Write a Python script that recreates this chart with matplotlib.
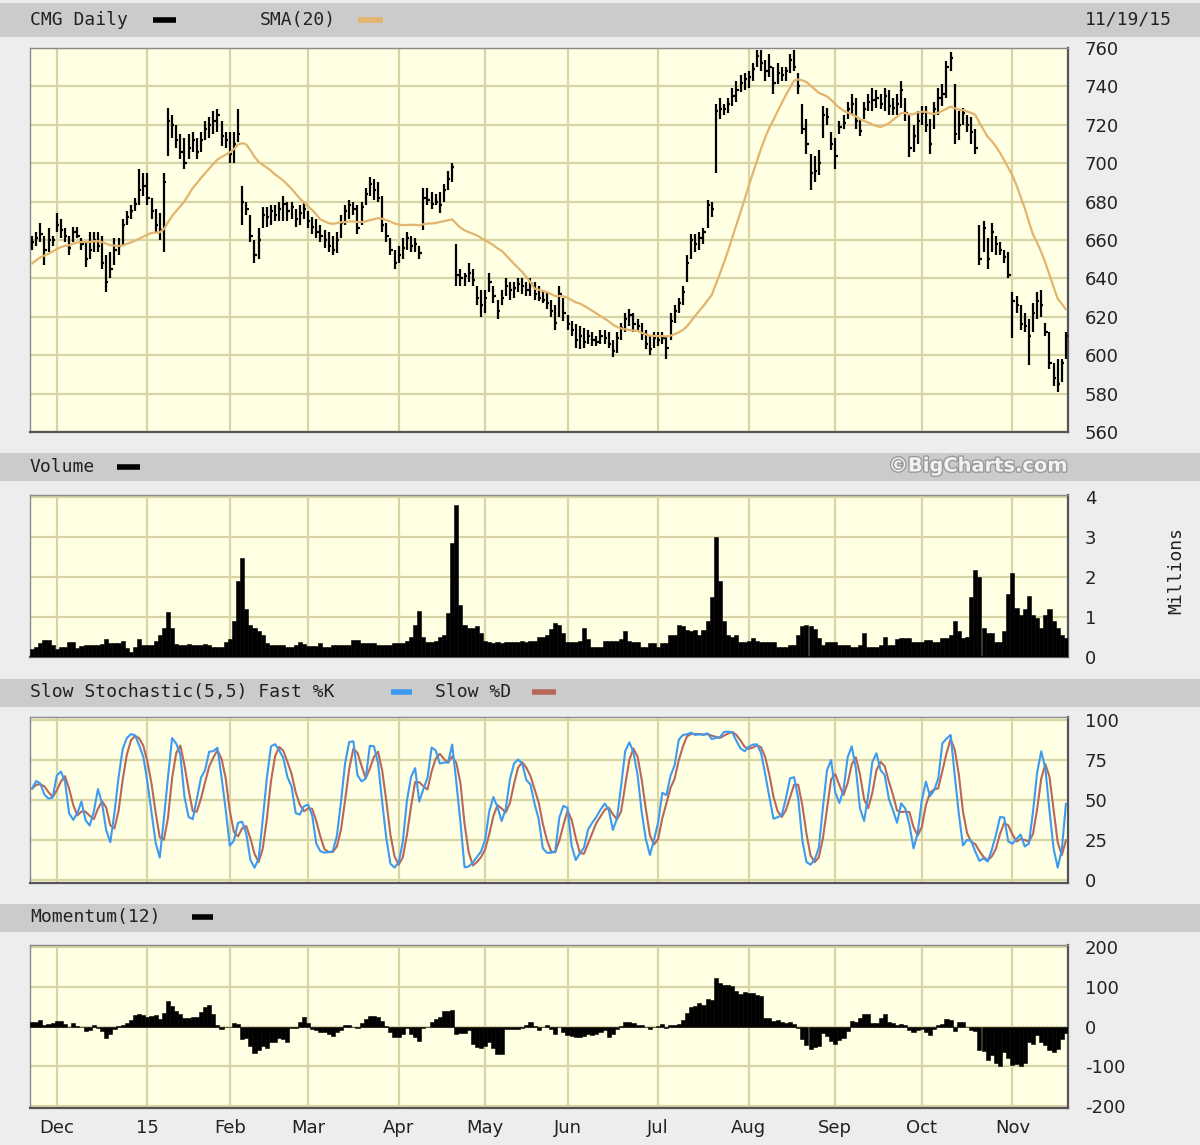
import matplotlib
matplotlib.use("Agg")
import matplotlib.pyplot as plt
import matplotlib.patheffects as pe
from matplotlib.lines import Line2D
import numpy as np
import pandas as pd

# ---------------- data ----------------
# 19 closes before the visible window (needed for SMA(20) / Momentum(12) warm-up)
prior_closes = [628, 632, 636, 640, 638, 642, 645, 648, 650, 647,
                651, 653, 650, 655, 652, 656, 658, 655, 660]

highs = [662, 664, 669, 662, 666, 662, 674, 671, 666, 662,
         667, 667, 661, 659, 664, 664, 664, 662, 652, 654,
         661, 661, 671, 675, 678, 682, 697, 695, 695, 682,
         676, 674, 695, 729, 725, 720, 715, 713, 715, 716,
         713, 716, 722, 724, 727, 728, 722, 716, 716, 716,
         728, 688, 680, 673, 660, 666, 677, 677, 678, 678,
         680, 683, 680, 680, 676, 678, 680, 675, 672, 671,
         668, 665, 664, 662, 664, 673, 678, 681, 680, 678,
         680, 687, 693, 692, 690, 683, 669, 661, 655, 657,
         661, 664, 662, 661, 657, 687, 687, 685, 684, 685,
         689, 696, 700, 658, 645, 643, 648, 645, 636, 634,
         634, 643, 636, 629, 634, 640, 638, 638, 640, 640,
         638, 640, 638, 636, 634, 633, 629, 626, 636, 630,
         621, 618, 616, 615, 614, 613, 612, 610, 613, 613,
         612, 608, 612, 617, 622, 624, 622, 619, 617, 613,
         610, 612, 612, 612, 610, 622, 626, 630, 636, 652,
         663, 663, 664, 666, 681, 680, 731, 734, 731, 734,
         739, 743, 746, 747, 748, 752, 759, 759, 754, 757,
         750, 752, 750, 750, 757, 759, 747, 731, 723, 705,
         704, 707, 730, 729, 716, 713, 722, 725, 732, 736,
         734, 723, 732, 736, 739, 738, 736, 739, 738, 734,
         736, 743, 734, 725, 720, 727, 730, 730, 723, 732,
         739, 741, 753, 758, 741, 727, 729, 725, 724, 718,
         668, 670, 661, 669, 662, 659, 655, 654, 633, 631,
         626, 622, 619, 627, 633, 634, 617, 612, 596, 598,
         598, 612]

lows = [655, 657, 659, 647, 654, 657, 664, 661, 659, 652,
        659, 661, 655, 646, 650, 654, 654, 645, 633, 640,
        647, 652, 657, 668, 671, 675, 678, 683, 678, 671,
        664, 660, 654, 704, 713, 708, 702, 697, 702, 706,
        702, 706, 712, 713, 715, 716, 709, 708, 700, 700,
        711, 668, 673, 659, 648, 650, 666, 667, 668, 670,
        670, 670, 670, 671, 667, 668, 671, 666, 663, 661,
        659, 656, 654, 652, 653, 661, 668, 671, 673, 663,
        668, 678, 683, 681, 680, 664, 659, 652, 645, 648,
        650, 655, 654, 654, 650, 665, 678, 676, 678, 674,
        680, 686, 690, 636, 636, 636, 638, 636, 626, 620,
        622, 633, 627, 619, 626, 631, 629, 630, 633, 632,
        631, 631, 629, 628, 627, 624, 620, 613, 620, 618,
        613, 610, 604, 603, 604, 606, 605, 605, 606, 606,
        604, 599, 601, 608, 612, 615, 612, 612, 608, 603,
        600, 604, 605, 606, 598, 608, 617, 622, 626, 638,
        650, 654, 655, 658, 666, 672, 695, 723, 725, 726,
        730, 732, 737, 738, 739, 743, 750, 748, 743, 745,
        736, 741, 743, 743, 747, 748, 736, 715, 705, 686,
        690, 694, 713, 720, 707, 697, 715, 718, 723, 725,
        718, 714, 723, 727, 727, 729, 728, 727, 725, 725,
        725, 729, 722, 703, 706, 710, 720, 716, 705, 718,
        725, 730, 734, 748, 710, 712, 720, 716, 710, 705,
        647, 654, 645, 654, 652, 652, 648, 640, 609, 622,
        613, 612, 595, 612, 619, 620, 610, 593, 584, 581,
        586, 598]

closes = [659, 661, 663, 655, 660, 660, 668, 665, 662, 656,
          664, 662, 658, 650, 655, 660, 657, 648, 638, 645,
          655, 657, 668, 672, 675, 679, 686, 688, 682, 675,
          668, 665, 690, 722, 720, 712, 706, 700, 708, 712,
          706, 712, 718, 720, 722, 725, 714, 712, 705, 710,
          715, 680, 676, 662, 652, 660, 673, 672, 675, 673,
          676, 679, 675, 677, 671, 674, 676, 670, 667, 664,
          662, 660, 657, 655, 660, 669, 675, 678, 676, 666,
          677, 684, 689, 686, 682, 668, 662, 655, 648, 652,
          656, 661, 657, 658, 653, 682, 681, 679, 680, 678,
          686, 692, 698, 642, 640, 641, 643, 639, 630, 626,
          630, 638, 631, 623, 630, 636, 634, 635, 637, 636,
          634, 637, 632, 630, 629, 627, 623, 617, 632, 622,
          616, 613, 608, 610, 607, 610, 608, 607, 610, 609,
          606, 602, 609, 614, 619, 621, 616, 615, 611, 606,
          603, 609, 608, 609, 604, 618, 623, 627, 633, 648,
          660, 658, 661, 664, 678, 676, 727, 728, 728, 731,
          735, 738, 742, 744, 745, 749, 756, 752, 748, 750,
          742, 747, 746, 748, 754, 750, 740, 718, 710, 695,
          696, 700, 725, 724, 710, 704, 719, 721, 728, 731,
          722, 717, 728, 732, 733, 734, 731, 735, 730, 729,
          731, 738, 726, 708, 714, 722, 726, 720, 710, 728,
          734, 736, 750, 755, 715, 720, 726, 720, 716, 708,
          650, 666, 650, 664, 658, 655, 651, 642, 628, 626,
          616, 615, 610, 622, 628, 626, 612, 596, 588, 585,
          596, 610]

volume_m = [0.2, 0.25, 0.35, 0.42, 0.42, 0.3, 0.2, 0.25, 0.25, 0.38,
            0.38, 0.22, 0.28, 0.3, 0.3, 0.3, 0.3, 0.32, 0.45, 0.34,
            0.34, 0.34, 0.4, 0.22, 0.13, 0.25, 0.45, 0.3, 0.3, 0.3,
            0.4, 0.55, 0.72, 1.12, 0.72, 0.32, 0.31, 0.3, 0.32, 0.3,
            0.31, 0.3, 0.32, 0.3, 0.24, 0.24, 0.25, 0.38, 0.45, 0.9,
            1.9, 2.47, 1.2, 0.8, 0.72, 0.65, 0.55, 0.34, 0.3, 0.3,
            0.3, 0.3, 0.26, 0.26, 0.3, 0.38, 0.32, 0.28, 0.28, 0.28,
            0.34, 0.24, 0.24, 0.3, 0.3, 0.3, 0.3, 0.3, 0.43, 0.43,
            0.36, 0.36, 0.36, 0.36, 0.3, 0.3, 0.3, 0.3, 0.34, 0.34,
            0.34, 0.4, 0.5, 0.8, 1.15, 0.5, 0.38, 0.38, 0.4, 0.5,
            0.55, 1.1, 2.85, 3.79, 1.3, 0.8, 0.72, 0.72, 0.77, 0.6,
            0.4, 0.38, 0.36, 0.38, 0.36, 0.38, 0.38, 0.38, 0.38, 0.4,
            0.38, 0.4, 0.4, 0.5, 0.5, 0.55, 0.7, 0.85, 0.8, 0.6,
            0.38, 0.38, 0.38, 0.4, 0.72, 0.45, 0.24, 0.24, 0.26, 0.4,
            0.4, 0.4, 0.4, 0.45, 0.64, 0.4, 0.38, 0.38, 0.24, 0.24,
            0.34, 0.34, 0.24, 0.34, 0.36, 0.55, 0.55, 0.8, 0.78, 0.68,
            0.66, 0.68, 0.55, 0.68, 0.9, 1.5, 3.0, 1.9, 0.9, 0.55,
            0.5, 0.55, 0.38, 0.38, 0.4, 0.47, 0.4, 0.38, 0.38, 0.38,
            0.38, 0.24, 0.24, 0.26, 0.3, 0.3, 0.55, 0.77, 0.8, 0.77,
            0.7, 0.47, 0.3, 0.38, 0.38, 0.38, 0.3, 0.3, 0.3, 0.24,
            0.24, 0.3, 0.6, 0.26, 0.26, 0.26, 0.3, 0.51, 0.3, 0.3,
            0.45, 0.47, 0.47, 0.47, 0.38, 0.38, 0.38, 0.43, 0.43, 0.38,
            0.38, 0.47, 0.47, 0.55, 0.9, 0.64, 0.47, 0.5, 1.5, 2.17,
            2.0, 0.72, 0.6, 0.6, 0.38, 0.38, 0.64, 1.57, 2.1, 1.23,
            1.06, 1.19, 1.53, 1.06, 0.98, 0.72, 1.06, 1.19, 0.9, 0.72,
            0.55, 0.47]

month_names = ['Dec', '15', 'Feb', 'Mar', 'Apr', 'May', 'Jun', 'Jul',
               'Aug', 'Sep', 'Oct', 'Nov']
price_ticks = [760, 740, 720, 700, 680, 660, 640, 620, 600, 580, 560]
volume_ticks = [4, 3, 2, 1, 0]
stoch_ticks = [100, 75, 50, 25, 0]
mom_ticks = [200, 100, 0, -100, -200]

# ---------------- trading calendar ----------------
holidays = pd.to_datetime(['2014-11-27', '2014-12-25', '2015-01-01', '2015-01-19',
                           '2015-02-16', '2015-04-03', '2015-05-25', '2015-07-03',
                           '2015-09-07'])
dates = pd.bdate_range('2014-11-20', '2015-11-19')
dates = dates[~dates.isin(holidays)]
n = len(closes)
dates = dates[:n]
x = np.arange(n)
month_idx = [i for i in range(1, n) if dates[i].month != dates[i - 1].month]

highs = np.array(highs, float)
lows = np.array(lows, float)
closes_a = np.array(closes, float)
allc = np.array(prior_closes + closes, float)
sma20 = pd.Series(allc).rolling(20).mean().values[len(prior_closes):]
mom12 = allc[len(prior_closes):] - allc[len(prior_closes) - 12:len(allc) - 12]
hh = pd.Series(highs).rolling(5, min_periods=1).max().values
ll = pd.Series(lows).rolling(5, min_periods=1).min().values
rawk = 100 * (closes_a - ll) / np.maximum(hh - ll, 1e-9)
fastk = pd.Series(rawk).rolling(3, min_periods=1).mean().values
slowd = pd.Series(fastk).rolling(3, min_periods=1).mean().values

# ---------------- styling ----------------
W, H = 1200, 1145
BG = '#EDEDED'
BAND = '#CBCBCB'
PANEL = '#FFFFE3'
GRID = '#D9D4A6'
TXT = '#222222'
MONO = 'DejaVu Sans Mono'

fig = plt.figure(figsize=(W / 100, H / 100), dpi=100)
fig.patch.set_facecolor(BG)


def fx(px):
    return px / W


def fy(py):
    return 1 - py / H


def band(y0, y1):
    fig.add_artist(plt.Rectangle((0, fy(y1)), 1, (y1 - y0) / H,
                                 transform=fig.transFigure, facecolor=BAND,
                                 edgecolor='none', zorder=0))


def swatch(x0, x1, y, color):
    fig.add_artist(Line2D([fx(x0), fx(x1)], [fy(y), fy(y)], transform=fig.transFigure,
                          color=color, lw=4, solid_capstyle='butt'))


def header(x0, y, s):
    fig.text(fx(x0), fy(y), s, family=MONO, fontsize=13, color=TXT,
             va='center', ha='left')


def make_ax(y0, y1, ylim, ticks, labels):
    ax = fig.add_axes([fx(30), fy(y1), fx(1068 - 30), (y1 - y0) / H])
    ax.set_facecolor(PANEL)
    ax.set_xlim(-0.5, n - 0.5)
    ax.set_ylim(*ylim)
    ax.set_xticks(month_idx)
    ax.set_yticks(ticks)
    ax.set_yticklabels(labels)
    ax.yaxis.tick_right()
    ax.tick_params(axis='y', length=0, pad=12, labelsize=13, labelcolor=TXT)
    ax.tick_params(axis='x', length=0, labelbottom=False)
    ax.grid(True, color=GRID, lw=1.6)
    ax.set_axisbelow(True)
    for s in ax.spines.values():
        s.set_color('#8A8A8A')
        s.set_linewidth(1.0)
    ax.spines['right'].set_color('#555555')
    ax.spines['right'].set_linewidth(1.6)
    ax.spines['bottom'].set_color('#555555')
    ax.spines['bottom'].set_linewidth(1.6)
    return ax


# header bands
band(3, 37)
band(453, 481)
band(679, 707)
band(904, 932)

# ---- price panel ----
axp = make_ax(48, 432, (560, 760), price_ticks, [str(t) for t in price_ticks])
axp.vlines(x, lows, highs, color='black', lw=1.6, zorder=3)
axp.hlines(closes_a, x, x + 0.55, color='black', lw=1.6, zorder=3)
axp.plot(x, sma20, color='#E2B46E', lw=1.6, zorder=4)

header(30, 20, 'CMG Daily')
swatch(153, 176, 20, 'black')
header(260, 20, 'SMA(20)')
swatch(358, 383, 20, '#E2B46E')
fig.text(fx(1085), fy(20), '11/19/15', family=MONO, fontsize=13, color=TXT,
         va='center', ha='left')

# ---- volume panel ----
axv = make_ax(495, 657, (0, 4.05), volume_ticks, [str(t) for t in volume_ticks])
axv.bar(x, volume_m, width=1.0, color='black', edgecolor='black', linewidth=0.4,
        zorder=3)
header(30, 467, 'Volume')
swatch(117, 140, 467, 'black')
fig.text(fx(1068), fy(466), '\u00a9BigCharts.com', fontsize=14, weight='bold',
         color='#F2F2F2', ha='right', va='center',
         path_effects=[pe.withStroke(linewidth=2, foreground='#9A9A9A')])
fig.text(fx(1176), fy(570), 'Millions', family=MONO, fontsize=13, color=TXT,
         rotation=90, ha='center', va='center')

# ---- stochastic panel ----
axs = make_ax(717, 883, (-2, 102), stoch_ticks, [str(t) for t in stoch_ticks])
axs.plot(x, slowd, color='#B8675A', lw=1.5, zorder=3)
axs.plot(x, fastk, color='#3C9BF0', lw=1.5, zorder=4)
header(30, 692, 'Slow Stochastic(5,5) Fast %K')
swatch(391, 412, 692, '#3C9BF0')
header(435, 692, 'Slow %D')
swatch(532, 556, 692, '#B8675A')

# ---- momentum panel ----
axm = make_ax(945, 1108, (-205, 205), mom_ticks, [str(t) for t in mom_ticks])
axm.bar(x, mom12, width=1.0, color='black', edgecolor='black', linewidth=0.4,
        zorder=3)
header(30, 917, 'Momentum(12)')
swatch(192, 213, 917, 'black')
axm.tick_params(axis='x', labelbottom=True, pad=8, labelsize=13, labelcolor=TXT)
axm.set_xticklabels(month_names)

fig.savefig('out.png', dpi=100, facecolor=fig.get_facecolor())
